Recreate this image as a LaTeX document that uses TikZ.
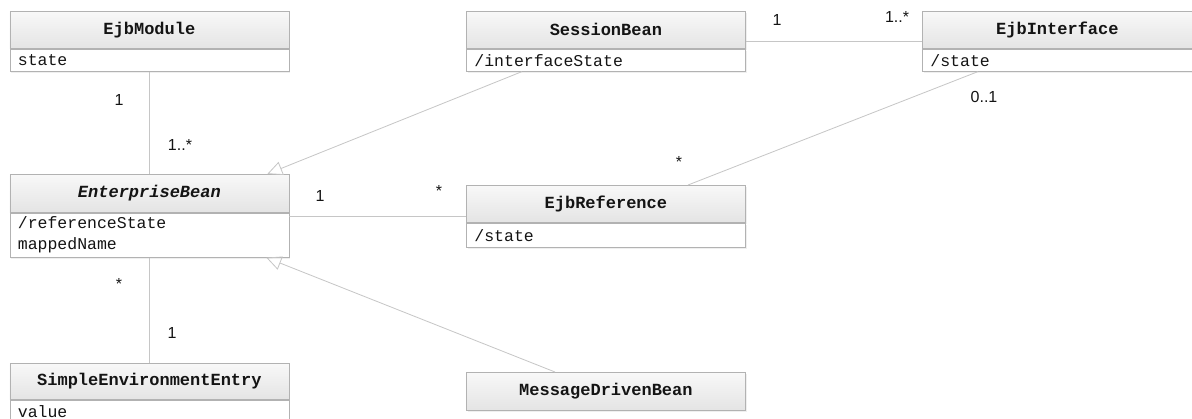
\documentclass[tikz,border=0pt]{standalone}
\usepackage{fontspec}
\setmonofont{Liberation Mono}
\setsansfont{Liberation Sans}
\usetikzlibrary{arrows.meta,shadows}
\definecolor{boxline}{RGB}{178,178,178}
\definecolor{conn}{RGB}{198,198,198}
\definecolor{headtop}{RGB}{248,248,248}
\definecolor{headbot}{RGB}{228,228,228}
\definecolor{txt}{RGB}{20,20,20}
\begin{document}
\begin{tikzpicture}[x=1pt,y=-1pt,
  boxshadow/.style={drop shadow={opacity=0.12,shadow xshift=1.5pt,shadow yshift=-1.5pt}},
  head/.style={draw=boxline,line width=0.8pt,top color=headtop,bottom color=headbot,
    minimum width=279pt,minimum height=37pt,anchor=north west,inner sep=0pt,
    font=\ttfamily\bfseries\fontsize{17}{19}\selectfont,text=txt,boxshadow},
  attr/.style={draw=boxline,line width=0.8pt,fill=white,anchor=north west,
    inner xsep=8pt,inner ysep=1pt,text width=263pt,align=left,minimum height=22pt,
    font=\ttfamily\fontsize{16.5}{21}\selectfont,text=txt,boxshadow},
  assoc/.style={draw=conn,line width=0.8pt},
  gen/.style={draw=conn,line width=0.8pt,-{Triangle[open,length=15pt,width=14pt]}},
  mult/.style={font=\sffamily\fontsize{16}{18}\selectfont,text=txt,inner sep=0pt}
]
\useasboundingbox (0,0) rectangle (1192,418);
\clip (0,0) rectangle (1192,418);
\fill[white] (0,0) rectangle (1192,418);

% classes
\node[head] (em) at (9.5,11) {EjbModule};
\node[attr] (emA) at (em.south west) {state};

\node[head] (sb) at (466,11) {SessionBean};
\node[attr] (sbA) at (sb.south west) {/interfaceState};

\node[head,minimum width=270pt] (ei) at (922,11) {EjbInterface};
\node[attr,text width=254pt] (eiA) at (ei.south west) {/state};

\node[head,minimum height=38pt] (eb) at (9.5,174) {\itshape EnterpriseBean};
\node[attr,minimum height=44pt] (ebA) at (eb.south west) {/referenceState\\mappedName};

\node[head] (er) at (466,185) {EjbReference};
\node[attr,minimum height=24pt] (erA) at (er.south west) {/state};

\node[head,minimum height=36pt] (see) at (9.5,363) {SimpleEnvironmentEntry};
\node[attr] (seeA) at (see.south west) {value};

\node[head,minimum height=38pt] (mdb) at (466,372) {MessageDrivenBean};

% connectors
\draw[assoc] (emA.south) -- (eb.north);
\draw[assoc] (ebA.south) -- (see.north);
\draw[assoc] ([yshift=-11.5pt]sb.east) -- ([yshift=-11.5pt]ei.west);
\draw[assoc] ([yshift=-4pt]ebA.north east) -- ([yshift=-4pt]ebA.north east -| er.west);
\draw[assoc] ([xshift=56pt]eiA.south west) -- ([xshift=222pt]er.north west);
\draw[gen] ([xshift=56pt]sbA.south west) -- ([xshift=-22pt]eb.north east);
\draw[gen] ([xshift=89pt]mdb.north west) -- ([xshift=-23pt]ebA.south east);

% multiplicities
\node[mult] (m1) at (119,100) {1};
\node[mult] (m2) at (180,145) {1..*};
\node[mult] (m3) at (777,20) {1};
\node[mult] (m4) at (897,17) {1..*};
\node[mult] (m5) at (984,97) {0..1};
\node[mult] (m6) at (679,162) {*};
\node[mult] (m7) at (320,196) {1};
\node[mult] (m8) at (439,191) {*};
\node[mult] (m9) at (119,284) {*};
\node[mult] (m10) at (172,333) {1};
\end{tikzpicture}
\end{document}
